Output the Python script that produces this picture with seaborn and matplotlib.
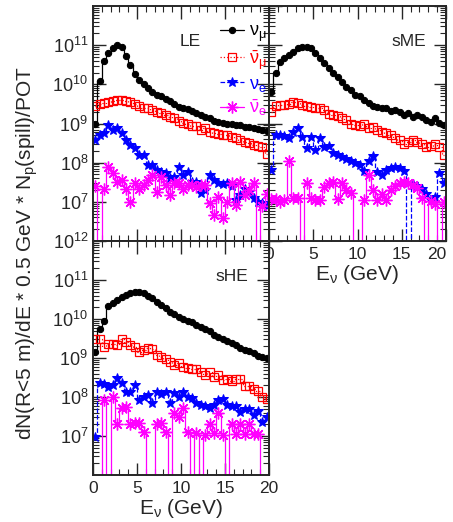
import numpy as np
import pandas as pd
import matplotlib
matplotlib.use("Agg")
import matplotlib.pyplot as plt
import seaborn as sns
from matplotlib.ticker import LogLocator, MultipleLocator, NullFormatter, FixedFormatter, FixedLocator

# energy bins: 0.5 GeV wide, 0-20 GeV
bin_centers = np.arange(0.25, 20.0, 0.5)

# log10 of the flux per bin, 0 = empty bin
LE_numu = [9.0, 10.09, 10.60, 10.79, 10.92, 11.0, 10.96, 10.72, 10.49, 10.26,
           10.11, 10.0, 9.9, 9.81, 9.74, 9.69, 9.62, 9.57, 9.51, 9.43,
           9.39, 9.36, 9.32, 9.26, 9.22, 9.17, 9.13, 9.07, 9.05, 9.02,
           9.0, 8.98, 8.96, 8.95, 8.92, 8.9, 8.88, 8.86, 8.83, 8.8]
LE_numubar = [9.45, 9.49, 9.53, 9.56, 9.58, 9.60, 9.60, 9.57, 9.54, 9.50,
              9.45, 9.40, 9.39, 9.34, 9.30, 9.26, 9.22, 9.17, 9.13, 9.06,
              9.02, 8.99, 8.94, 8.94, 8.83, 8.88, 8.79, 8.75, 8.72, 8.71,
              8.70, 8.66, 8.62, 8.58, 8.54, 8.50, 8.45, 8.43, 8.41, 8.22]
LE_nue = [8.58, 8.71, 8.75, 8.96, 8.83, 8.88, 8.75, 8.58, 8.45, 8.37,
          8.20, 8.20, 7.94, 7.94, 7.81, 7.77, 7.73, 7.60, 7.64, 7.90,
          7.69, 7.77, 7.50, 7.50, 7.22, 7.30, 7.69, 7.56, 7.47, 7.45,
          7.49, 7.40, 7.05, 7.17, 7.34, 7.26, 7.10, 7.00, 6.96, 6.90]
LE_nuebar = [7.40, 0, 7.34, 7.90, 7.73, 7.51, 7.56, 7.34, 7.00, 7.47,
             7.34, 7.43, 7.56, 7.69, 7.26, 7.64, 7.43, 7.17, 7.47, 7.47,
             7.34, 7.43, 7.43, 7.38, 7.43, 7.43, 6.96, 6.66, 7.13, 6.60,
             7.00, 7.47, 6.92, 7.51, 7.17, 7.30, 7.47, 0, 6.90, 7.20]

sME_numu = [9.80, 10.30, 10.58, 10.66, 10.75, 10.83, 10.92, 10.96, 10.96, 10.92,
            10.79, 10.66, 10.54, 10.41, 10.28, 10.20, 10.07, 9.94, 9.86, 9.74,
            9.69, 9.60, 9.53, 9.45, 9.43, 9.39, 9.39, 9.32, 9.34, 9.30,
            9.22, 9.26, 9.17, 9.22, 9.17, 9.09, 9.05, 9.13, 9.02, 8.95]
sME_numubar = [9.30, 9.45, 9.47, 9.47, 9.51, 9.56, 9.53, 9.47, 9.45, 9.43,
               9.39, 9.39, 9.34, 9.24, 9.22, 9.19, 9.13, 9.09, 9.00, 8.96,
               8.94, 9.00, 8.88, 8.92, 8.83, 8.79, 8.75, 8.71, 8.62, 8.58,
               8.48, 8.54, 8.58, 8.54, 8.48, 8.41, 8.43, 8.47, 8.41, 8.20]
sME_nue = [7.81, 8.71, 8.71, 8.68, 8.62, 8.79, 8.88, 8.66, 8.37, 8.66,
           8.32, 8.64, 8.41, 8.43, 8.24, 8.20, 8.15, 8.09, 8.03, 7.98,
           7.94, 7.80, 8.05, 8.17, 7.77, 7.69, 7.81, 7.86, 7.90, 7.86,
           7.80, 0, 7.45, 7.40, 7.34, 7.20, 7.05, 7.13, 7.74, 7.49]
sME_nuebar = [7.06, 7.06, 7.00, 7.04, 8.03, 7.09, 7.09, 0, 7.49, 7.09,
              7.05, 7.04, 7.37, 7.47, 7.51, 7.08, 7.47, 7.30, 7.22, 0,
              0, 7.05, 7.69, 7.30, 7.05, 7.20, 7.05, 7.30, 7.40, 7.47,
              7.51, 7.47, 7.42, 7.35, 7.10, 0, 7.02, 6.95, 0, 7.00]

sHE_numu = [9.15, 9.74, 9.96, 10.33, 10.40, 10.49, 10.56, 10.62, 10.66, 10.68,
            10.68, 10.66, 10.59, 10.53, 10.44, 10.36, 10.27, 10.19, 10.13, 10.06,
            9.99, 9.95, 9.93, 9.85, 9.79, 9.74, 9.68, 9.59, 9.53, 9.48,
            9.44, 9.38, 9.34, 9.25, 9.21, 9.17, 9.12, 9.06, 9.03, 9.00]
sHE_numubar = [9.48, 9.48, 9.29, 9.36, 9.36, 9.34, 9.48, 9.42, 9.33, 9.29,
               9.16, 9.20, 9.25, 9.22, 9.08, 9.03, 8.97, 8.91, 8.82, 8.86,
               8.78, 8.74, 8.71, 8.73, 8.65, 8.56, 8.64, 8.52, 8.56, 8.43,
               8.45, 8.40, 8.45, 8.45, 8.28, 8.27, 8.20, 8.15, 8.00, 7.95]
sHE_nue = [6.98, 8.35, 8.33, 8.26, 8.30, 8.50, 8.35, 8.14, 8.14, 8.31,
           7.92, 8.00, 8.05, 7.84, 8.14, 8.08, 8.14, 7.84, 8.09, 8.00,
           8.14, 8.00, 7.97, 7.84, 7.80, 7.77, 7.71, 7.80, 7.92, 7.95,
           7.80, 7.78, 7.78, 7.62, 7.68, 7.70, 7.55, 7.65, 7.35, 7.50]
sHE_nuebar = [0, 0, 7.92, 0, 8.00, 7.32, 7.71, 7.75, 7.32, 7.34,
              7.34, 7.09, 0, 0, 7.32, 7.34, 7.09, 0, 7.58, 7.49,
              7.71, 7.11, 0, 7.07, 0, 7.03, 7.32, 7.07, 7.58, 7.03,
              0, 7.30, 7.05, 7.30, 7.05, 7.30, 7.05, 7.05, 0, 0]

panel_names = ["LE", "sME", "sHE"]
flavours = [r"$\nu_{\mu}$", r"$\bar{\nu}_{\mu}$", r"$\nu_{e}$", r"$\bar{\nu}_{e}$"]
panel_data = {
    "LE": [LE_numu, LE_numubar, LE_nue, LE_nuebar],
    "sME": [sME_numu, sME_numubar, sME_nue, sME_nuebar],
    "sHE": [sHE_numu, sHE_numubar, sHE_nue, sHE_nuebar],
}

styles = [
    dict(color="black", linestyle="-", marker="o", markersize=4.5,
         markerfacecolor="black", markeredgecolor="black"),
    dict(color="#ff0000", linestyle=":", marker="s", markersize=5.5,
         markerfacecolor="none", markeredgecolor="#ff0000", markeredgewidth=0.9),
    dict(color="#0000ff", linestyle="--", marker="*", markersize=7.5,
         markerfacecolor="#0000ff", markeredgecolor="#0000ff"),
    dict(color="#ff00ff", linestyle="-", marker=(8, 2, 0), markersize=8.5,
         markerfacecolor="#ff00ff", markeredgecolor="#ff00ff", markeredgewidth=1.0),
]

sns.set_style("ticks")
plt.rcParams["font.family"] = ["Liberation Sans", "DejaVu Sans"]
plt.rcParams["mathtext.default"] = "regular"

fig = plt.figure(figsize=(4.53, 5.22), dpi=100)
W, H = 453.0, 522.0
ax_le = fig.add_axes([93 / W, 1 - 241 / H, 176 / W, 235 / H])
ax_me = fig.add_axes([269 / W, 1 - 241 / H, 177 / W, 235 / H])
ax_he = fig.add_axes([93 / W, 1 - 475 / H, 176 / W, 234 / H])
axes = {"LE": ax_le, "sME": ax_me, "sHE": ax_he}

for name in panel_names:
    ax = axes[name]
    for vals, lab, st in zip(panel_data[name], flavours, styles):
        v = np.array(vals, dtype=float)
        flux = np.where(v > 0, 10 ** v, 1.0)
        df = pd.DataFrame({"E": bin_centers, "flux": flux})
        sns.lineplot(data=df, x="E", y="flux", ax=ax, estimator=None, errorbar=None,
                     drawstyle="steps-mid", linewidth=0.9, label=lab, legend=False,
                     **st)
    ax.set_yscale("log")
    ax.set_xlim(0, 20)
    ax.set_ylim(1e6, 1e12)
    ax.set_xlabel("")
    ax.set_ylabel("")
    ax.xaxis.set_major_locator(MultipleLocator(5))
    ax.xaxis.set_minor_locator(MultipleLocator(1))
    ax.yaxis.set_major_locator(LogLocator(base=10, numticks=10))
    ax.yaxis.set_minor_locator(LogLocator(base=10, subs=np.arange(2, 10), numticks=20))
    ax.yaxis.set_minor_formatter(NullFormatter())
    ax.tick_params(which="both", direction="in", top=True, right=True, labelsize=13)
    ax.tick_params(which="major", length=9, width=1.0)
    ax.tick_params(which="minor", length=4.5, width=0.8)
    for sp in ax.spines.values():
        sp.set_linewidth(1.4)
    ax.text(0.79 if name != "LE" else 0.55, 0.85, name, transform=ax.transAxes,
            ha="center", va="center", fontsize=12.5)

# y tick labels: LE shows 10^7..10^11, sHE shows 10^7..10^12, sME none
le_ticks = [1e7, 1e8, 1e9, 1e10, 1e11]
he_ticks = [1e7, 1e8, 1e9, 1e10, 1e11, 1e12]
ax_le.yaxis.set_major_locator(FixedLocator(le_ticks))
ax_le.yaxis.set_major_formatter(FixedFormatter([r"$10^{%d}$" % np.log10(t) for t in le_ticks]))
ax_he.yaxis.set_major_locator(FixedLocator(he_ticks))
ax_he.yaxis.set_major_formatter(FixedFormatter([r"$10^{%d}$" % np.log10(t) for t in he_ticks]))
ax_me.tick_params(axis="y", labelleft=False)
ax_le.tick_params(axis="x", labelbottom=False)

for ax in (ax_me, ax_he):
    ax.set_xticks([0, 5, 10, 15, 20])
    ax.set_xticklabels(["0", "5", "10", "15", "20"])
    ax.tick_params(axis="x", labelsize=12.5, pad=4)
    ax.set_xlabel(r"E$_{\nu}$ (GeV)", fontsize=15, labelpad=1)
# keep the last label of the right panel inside the figure
ax_me.get_xticklabels()[-1].set_horizontalalignment("right")

handles, labels = ax_le.get_legend_handles_labels()
leg = fig.legend(handles, labels, loc="upper left", bbox_to_anchor=(211 / W, 1 - 14 / H),
                 frameon=False, fontsize=13, handlelength=1.3, handletextpad=0.3,
                 labelspacing=0.22, borderpad=0.0)
for txt, st in zip(leg.get_texts(), styles):
    txt.set_color(st["color"])

fig.text(27 / W, 0.515, r"dN(R<5 m)/dE * 0.5 GeV * N$_{p}$(spill)/POT",
         rotation=90, ha="center", va="center", fontsize=15)

fig.savefig("out.png", dpi=100)
